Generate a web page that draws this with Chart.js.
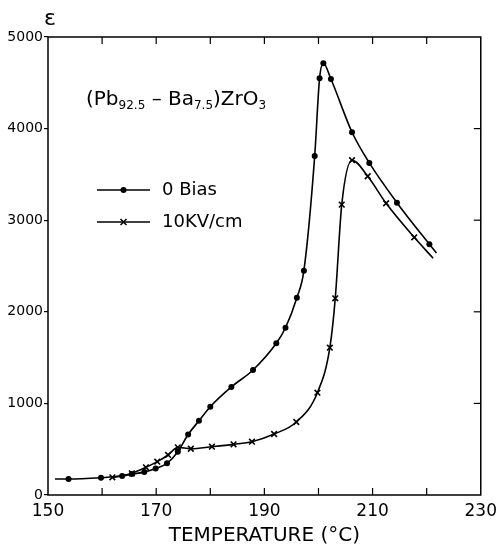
<!DOCTYPE html>
<html>
<head>
<meta charset="utf-8">
<script src="https://cdn.jsdelivr.net/npm/chart.js@4/dist/chart.umd.min.js"></script>
<style>
  html, body { margin: 0; padding: 0; background: #fff; }
  #wrap { width: 503px; height: 552px; }
</style>
</head>
<body>
<div id="wrap"><canvas id="chartEps"></canvas></div>
<script>
// ---- data ----
// first / last entries are where the drawn curve starts or stops (no marker there)
const temp0 = [151.3, 153.8, 159.8, 163.7, 165.5, 167.8, 169.9, 172.0, 174.0, 175.9, 177.9, 180.0, 183.9, 187.9, 192.2, 193.9, 196.0, 197.3, 199.3, 200.2, 200.9, 202.3, 206.2, 209.4, 214.5, 220.5, 221.8];
const eps0  = [175, 175, 189, 207, 228, 250, 290, 346, 473, 660, 810, 964, 1180, 1365, 1656, 1826, 2154, 2449, 3700, 4549, 4713, 4541, 3960, 3625, 3191, 2737, 2642];
const mark0 = [false, true, true, true, true, true, true, true, true, true, true, true, true, true, true, true, true, true, true, true, true, true, true, true, true, true, false];

const temp10 = [161.9, 165.5, 168.1, 170.2, 172.2, 174.0, 176.4, 180.3, 184.3, 187.7, 191.8, 195.9, 199.8, 202.1, 203.1, 204.3, 206.2, 209.1, 212.5, 217.7, 221.2];
const eps10  = [193, 237, 302, 364, 437, 520, 505, 527, 553, 582, 666, 797, 1117, 1608, 2147, 3170, 3655, 3480, 3185, 2813, 2584];
const mark10 = [true, true, true, true, true, true, true, true, true, true, true, true, true, true, true, true, true, true, true, true, false];

const seriesNames = ["0 Bias", "10KV/cm"];
const xTickLabels = [150, 170, 190, 210, 230];
const yTickLabels = [0, 1000, 2000, 3000, 4000, 5000];

const FONT = "'DejaVu Sans', sans-serif";

// frame, inward ticks, formula, legend, epsilon
const decor = {
  id: "decor",
  afterDraw(chart) {
    const ctx = chart.ctx;
    const a = chart.chartArea;
    const xs = chart.scales.x, ys = chart.scales.y;
    ctx.save();
    ctx.strokeStyle = "#000";
    ctx.lineWidth = 1.5;
    ctx.strokeRect(a.left, a.top, a.right - a.left, a.bottom - a.top);

    // inward ticks every 10 deg top/bottom, every 1000 on the right
    ctx.lineWidth = 1.2;
    for (let t = 160; t < 230; t += 10) {
      const px = xs.getPixelForValue(t);
      ctx.beginPath();
      ctx.moveTo(px, a.bottom); ctx.lineTo(px, a.bottom - 7);
      ctx.moveTo(px, a.top); ctx.lineTo(px, a.top + 7);
      ctx.stroke();
    }
    for (let v = 1000; v < 5000; v += 1000) {
      const py = ys.getPixelForValue(v);
      ctx.beginPath();
      ctx.moveTo(a.right, py); ctx.lineTo(a.right - 7, py);
      ctx.stroke();
    }

    // epsilon axis label
    ctx.fillStyle = "#000";
    ctx.font = "22px " + FONT;
    ctx.textAlign = "left";
    ctx.textBaseline = "alphabetic";
    ctx.fillText("ε", a.left - 4, a.top - 12);

    // compound formula with subscripts
    const parts = [["(Pb", 0], ["92.5", 1], [" – Ba", 0], ["7.5", 1], [")ZrO", 0], ["3", 1]];
    let x = a.left + 38;
    const base = a.top + 68;
    parts.forEach(([s, sub]) => {
      ctx.font = (sub ? "12px " : "20px ") + FONT;
      ctx.fillText(s, x, sub ? base + 4 : base);
      x += ctx.measureText(s).width;
    });

    // legend
    const rows = [[a.top + 153, "circle"], [a.top + 185, "cross"]];
    rows.forEach(([y, kind], i) => {
      const x0 = a.left + 49, x1 = a.left + 102, xm = (x0 + x1) / 2;
      ctx.lineWidth = 1.5;
      ctx.beginPath(); ctx.moveTo(x0, y); ctx.lineTo(x1, y); ctx.stroke();
      if (kind === "circle") {
        ctx.beginPath(); ctx.arc(xm, y, 3, 0, Math.PI * 2); ctx.fill();
      } else {
        ctx.beginPath();
        ctx.moveTo(xm - 3, y - 3); ctx.lineTo(xm + 3, y + 3);
        ctx.moveTo(xm + 3, y - 3); ctx.lineTo(xm - 3, y + 3);
        ctx.stroke();
      }
      ctx.font = "18px " + FONT;
      ctx.textBaseline = "middle";
      ctx.fillText(seriesNames[i], x1 + 12, y);
    });
    ctx.restore();
  }
};

new Chart(document.getElementById("chartEps"), {
  type: "line",
  data: {
    datasets: [{
      label: seriesNames[0],
      data: temp0.map((t, i) => ({ x: t, y: eps0[i] })),
      borderColor: "#000",
      backgroundColor: "#000",
      borderWidth: 1.6,
      pointStyle: "circle",
      pointRadius: c => mark0[c.dataIndex] ? 3 : 0,
      pointBorderWidth: 0,
      cubicInterpolationMode: "monotone"
    }, {
      label: seriesNames[1],
      data: temp10.map((t, i) => ({ x: t, y: eps10[i] })),
      borderColor: "#000",
      backgroundColor: "#000",
      borderWidth: 1.6,
      pointStyle: "crossRot",
      pointRadius: c => mark10[c.dataIndex] ? 4 : 0,
      pointBorderWidth: 1.6,
      cubicInterpolationMode: "monotone"
    }]
  },
  options: {
    responsive: true,
    maintainAspectRatio: false,
    animation: false,
    layout: { padding: { top: 37, right: 11, left: 0, bottom: 0 } },
    plugins: { legend: { display: false }, tooltip: { enabled: false } },
    scales: {
      x: {
        type: "linear",
        min: 150, max: 230,
        grid: { display: false, drawTicks: false },
        border: { display: false },
        ticks: {
          stepSize: 10, autoSkip: false, maxRotation: 0, padding: 6,
          color: "#000", font: { family: FONT, size: 17 },
          callback: v => xTickLabels.includes(v) ? String(v) : ""
        },
        title: { display: true, text: "TEMPERATURE (°C)", color: "#000", font: { family: FONT, size: 20 }, padding: { top: 2, bottom: 4 } },
        afterFit: s => { s.height = 57; }
      },
      y: {
        min: 0, max: 5000,
        grid: { display: true, drawOnChartArea: false, tickLength: 4, color: "#000", lineWidth: 1.2 },
        border: { display: false },
        ticks: {
          stepSize: 1000, padding: 1,
          color: "#000", font: { family: FONT, size: 14 },
          callback: v => yTickLabels.includes(v) ? String(v) : ""
        },
        afterFit: s => { s.width = 48; }
      }
    }
  },
  plugins: [decor]
});
</script>
</body>
</html>
